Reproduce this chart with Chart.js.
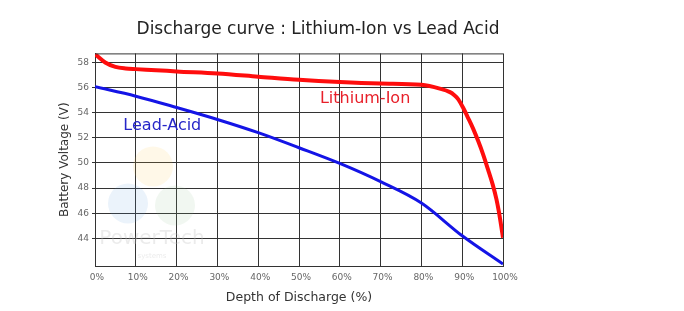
<!DOCTYPE html>
<html>
<head>
<meta charset="utf-8">
<script src="https://cdn.jsdelivr.net/npm/chart.js@4.4.1/dist/chart.umd.min.js"></script>
<style>
  html, body { margin: 0; padding: 0; background: #fff; }
  #wrap { width: 684px; height: 311px; }
</style>
</head>
<body>
<div id="wrap"><canvas id="myChart" width="684" height="311"></canvas></div>
<script>
// depth of discharge (%) and voltage (V)
const liDepth = [0, 2.5, 5, 7.5, 10, 15, 20, 30, 40, 50, 60, 70, 80, 84.5, 87, 88, 89, 90.2, 91.4, 92.7, 93.9, 95.1, 96.3, 97.5, 98.4, 99, 99.5, 100];
const liVolt  = [58.64, 57.98, 57.63, 57.5, 57.45, 57.37, 57.27, 57.1, 56.85, 56.6, 56.42, 56.3, 56.2, 55.9, 55.62, 55.4, 55.07, 54.4, 53.6, 52.7, 51.75, 50.7, 49.5, 48.25, 47.1, 46.1, 45.1, 44.05];

const leadDepth = [0, 10, 20, 30, 40, 50, 60, 70, 80, 90, 100];
const leadVolt  = [56.05, 55.3, 54.4, 53.45, 52.4, 51.2, 49.95, 48.5, 46.8, 44.2, 41.95];

const yTicks = [44, 46, 48, 50, 52, 54, 56, 58];

const FONT = 'DejaVu Sans';

const toPoints = (xs, ys) => xs.map((x, i) => ({ x: x, y: ys[i] }));

// series labels + faint watermark + top border of the plot box
const extras = {
    id: 'extras',
    beforeDatasetsDraw(chart) {
        const c = chart.ctx, a = chart.chartArea;
        c.save();
        // watermark logo blobs
        const blobs = [['rgba(255,200,80,0.13)', 58, 113], ['rgba(90,160,220,0.12)', 33, 150], ['rgba(140,190,140,0.12)', 80, 152]];
        blobs.forEach(b => {
            c.fillStyle = b[0];
            c.beginPath();
            c.arc(a.left + b[1], a.top + b[2], 20, 0, Math.PI * 2);
            c.fill();
        });
        c.fillStyle = 'rgba(190,190,190,0.3)';
        c.textAlign = 'center';
        c.textBaseline = 'middle';
        c.font = '20px ' + FONT;
        c.fillText('PowerTech', a.left + 57, a.top + 185);
        c.font = '7px ' + FONT;
        c.fillText('systems', a.left + 57, a.top + 203);
        c.restore();
    },
    afterDraw(chart) {
        const c = chart.ctx, a = chart.chartArea;
        const x = chart.scales.x, y = chart.scales.y;
        c.save();
        c.strokeStyle = '#333';
        c.lineWidth = 1;
        c.beginPath();
        c.moveTo(a.left, a.top + 0.5);
        c.lineTo(a.right, a.top + 0.5);
        c.stroke();

        c.textAlign = 'center';
        c.textBaseline = 'middle';
        c.font = '16px ' + FONT;
        c.fillStyle = '#e8202a';
        c.fillText('Lithium-Ion', x.getPixelForValue(66.2), y.getPixelForValue(55.05));
        c.fillStyle = '#2626c8';
        c.fillText('Lead-Acid', x.getPixelForValue(16.5), y.getPixelForValue(52.98));
        c.restore();
    }
};

const ctx = document.getElementById('myChart').getContext('2d');
const myChart = new Chart(ctx, {
    type: 'line',
    data: {
        datasets: [{
            label: 'Lithium-Ion',
            data: toPoints(liDepth, liVolt),
            borderColor: '#ff0d0d',
            borderWidth: 4,
            pointRadius: 0,
            cubicInterpolationMode: 'monotone',
            fill: false
        }, {
            label: 'Lead-Acid',
            data: toPoints(leadDepth, leadVolt),
            borderColor: '#1414e6',
            borderWidth: 3,
            pointRadius: 0,
            cubicInterpolationMode: 'monotone',
            fill: false
        }]
    },
    options: {
        responsive: false,
        animation: false,
        layout: { padding: { left: 0, right: 48, top: 0, bottom: 0 } },
        plugins: {
            legend: { display: false },
            tooltip: { enabled: false },
            title: {
                display: true,
                text: 'Discharge curve : Lithium-Ion vs Lead Acid',
                color: '#222',
                font: { family: FONT, size: 17, weight: 'normal' },
                padding: { top: 19, bottom: 14 }
            }
        },
        scales: {
            x: {
                type: 'linear',
                min: 0,
                max: 100,
                afterFit: s => { s.height = 45; },
                grid: { color: '#333', lineWidth: 1, tickLength: 0 },
                border: { color: '#333' },
                ticks: {
                    stepSize: 10,
                    padding: 6,
                    labelOffset: 2,
                    color: '#666',
                    font: { family: FONT, size: 9 },
                    callback: v => v + '%'
                },
                title: {
                    display: true,
                    text: 'Depth of Discharge (%)',
                    color: '#333',
                    font: { family: FONT, size: 12.5 },
                    padding: { top: 6, bottom: 6 }
                }
            },
            y: {
                min: 41.8,
                max: 58.7,
                afterFit: s => { s.width = 95; },
                afterBuildTicks: s => { s.ticks = yTicks.map(v => ({ value: v })); },
                grid: { color: '#333', lineWidth: 1, tickLength: 3 },
                border: { color: '#333' },
                ticks: {
                    padding: 3,
                    color: '#666',
                    font: { family: FONT, size: 9 }
                },
                title: {
                    display: true,
                    text: 'Battery Voltage (V)',
                    color: '#333',
                    font: { family: FONT, size: 12 },
                    padding: { top: 58, bottom: 58 }
                }
            },
            // empty right-hand spacer so the title centres where the original has it
            spacer: {
                type: 'linear',
                position: 'right',
                afterFit: s => { s.width = 133; },
                grid: { display: false },
                border: { display: false },
                ticks: { display: false }
            }
        }
    },
    plugins: [extras]
});
</script>
</body>
</html>
